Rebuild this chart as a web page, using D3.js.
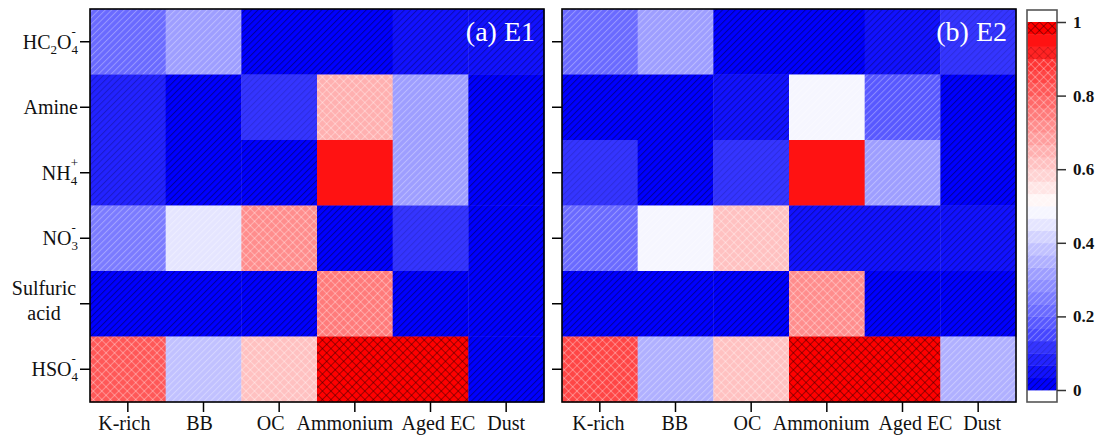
<!DOCTYPE html>
<html>
<head>
<meta charset="utf-8">
<script src="https://cdn.jsdelivr.net/npm/d3@7"></script>
<style>
  html, body { margin: 0; padding: 0; background: #fff; }
  svg text { font-family: "Liberation Serif", "Times New Roman", serif; }
</style>
</head>
<body>
<svg id="chart" width="1100" height="439"></svg>
<script>
// Sources (columns) and species (rows)
const sources = ["K-rich", "BB", "OC", "Ammonium", "Aged EC", "Dust"];
const species = ["HC2O4-", "Amine", "NH4+", "NO3-", "Sulfuric acid", "HSO4-"];

// Normalised correlation matrices, one row per species
const e1Values = [
  [0.20, 0.30, 0.00, 0.00, 0.05, 0.05],
  [0.07, 0.00, 0.10, 0.65, 0.32, 0.00],
  [0.07, 0.00, 0.03, 0.96, 0.32, 0.00],
  [0.25, 0.45, 0.72, 0.02, 0.10, 0.00],
  [0.00, 0.00, 0.00, 0.75, 0.03, 0.00],
  [0.82, 0.38, 0.60, 1.00, 1.00, 0.03]
];
const e2Values = [
  [0.20, 0.33, 0.03, 0.00, 0.05, 0.12],
  [0.02, 0.00, 0.05, 0.49, 0.17, 0.00],
  [0.12, 0.00, 0.10, 0.96, 0.30, 0.00],
  [0.22, 0.49, 0.62, 0.05, 0.05, 0.05],
  [0.00, 0.00, 0.00, 0.70, 0.02, 0.02],
  [0.85, 0.35, 0.63, 1.00, 1.00, 0.35]
];
const panelTitles = ["(a) E1", "(b) E2"];
const colorbarTicks = [0, 0.2, 0.4, 0.6, 0.8, 1];

// Row labels with chemical sub/superscripts
const rowLabelParts = {
  "HC2O4-": [{t: "HC"}, {t: "2", sub: true}, {t: "O"}, {t: "4", sub: true, sup: "-"}],
  "Amine": [{t: "Amine"}],
  "NH4+": [{t: "NH"}, {t: "4", sub: true, sup: "+"}],
  "NO3-": [{t: "NO"}, {t: "3", sub: true, sup: "-"}],
  "HSO4-": [{t: "HSO"}, {t: "4", sub: true, sup: "-"}]
};

// Horizontal nudges (px) that keep the long source names apart
const labelNudge = [
  [-3.5, -4, -8.5, -10, 8, 0],
  [-1.5, -0.7, -3.7, -5.7, 13, 4]
];

const SERIF = '"Liberation Serif", "Times New Roman", serif';
const nLevels = 30;
const svg = d3.select("#chart");
const defs = svg.append("defs");

// Diverging blue-white-red level colours
const blueWhite = d3.interpolateRgb("#0000ff", "#ffffff");
const whiteRed = d3.interpolateRgb("#ffffff", "#ff0000");
function levelColor(i) {
  const t = i / (nLevels - 1);
  return t <= 0.5 ? blueWhite(t / 0.5) : whiteRed((t - 0.5) / 0.5);
}
function levelOf(v) {
  return Math.max(0, Math.min(nLevels - 1, Math.floor(v * nLevels)));
}
// Hatch style for each level: diagonal lines on the blue side, cross-hatch on the red side
function hatchFor(i) {
  if (i <= 3) return {cross: false, stroke: "rgba(0,0,40," + [0.45, 0.35, 0.25, 0.15][i] + ")"};
  if (i <= 14) return {cross: false, stroke: "rgba(255,255,255,0.3)"};
  if (i <= 26) return {cross: true, stroke: "rgba(255,255,255,0.32)"};
  if (i === 27) return {cross: true, stroke: "rgba(90,0,0,0.22)"};
  if (i === 28) return null;
  return {cross: true, stroke: "rgba(40,0,0,0.45)"};
}

d3.range(nLevels).forEach(i => {
  const h = hatchFor(i);
  const fill = levelColor(i);
  const size = h && h.cross ? 6 : 4.5;
  const p = defs.append("pattern")
    .attr("id", "lvl" + i)
    .attr("patternUnits", "userSpaceOnUse")
    .attr("width", size).attr("height", size)
    .attr("patternTransform", "rotate(45)");
  p.append("rect").attr("width", size).attr("height", size).attr("fill", fill);
  if (h) {
    p.append("line").attr("x1", 0.5).attr("y1", 0).attr("x2", 0.5).attr("y2", size)
      .attr("stroke", h.stroke).attr("stroke-width", 1);
    if (h.cross) {
      p.append("line").attr("x1", 0).attr("y1", 0.5).attr("x2", size).attr("y2", 0.5)
        .attr("stroke", h.stroke).attr("stroke-width", 1);
    }
  }
});

const panelLefts = [90, 562];
const panelTop = 9, panelW = 454, panelH = 393;
const y = d3.scaleBand().domain(species).range([panelTop, panelTop + panelH]).padding(0);

[e1Values, e2Values].forEach((matrix, pi) => {
  const x0 = panelLefts[pi];
  const x = d3.scaleBand().domain(sources).range([x0, x0 + panelW]).padding(0);
  const g = svg.append("g");

  const cells = [];
  matrix.forEach((row, r) => row.forEach((v, c) => cells.push({r: species[r], c: sources[c], v})));
  g.selectAll("rect.cell").data(cells).join("rect")
    .attr("class", "cell")
    .attr("x", d => x(d.c)).attr("y", d => y(d.r))
    .attr("width", x.bandwidth() + 0.4).attr("height", y.bandwidth() + 0.4)
    .attr("fill", d => "url(#lvl" + levelOf(d.v) + ")");

  // frame
  g.append("rect").attr("x", x0).attr("y", panelTop).attr("width", panelW).attr("height", panelH)
    .attr("fill", "none").attr("stroke", "#000").attr("stroke-width", 1.6);

  // axes
  const xAxis = g.append("g").attr("transform", `translate(0,${panelTop + panelH})`)
    .call(d3.axisBottom(x).tickSize(10).tickSizeOuter(0).tickPadding(4));
  xAxis.attr("font-family", null).attr("font-size", null);
  xAxis.select(".domain").remove();
  xAxis.selectAll("line").attr("stroke", "#000").attr("stroke-width", 1.5);
  xAxis.selectAll("text").style("font-size", "20px").style("font-family", SERIF)
    .attr("fill", "#111")
    .attr("x", (d, i) => labelNudge[pi][i]);

  const yAxis = g.append("g").attr("transform", `translate(${x0},0)`)
    .call(d3.axisLeft(y).tickSize(10).tickSizeOuter(0).tickFormat(""));
  yAxis.select(".domain").remove();
  yAxis.selectAll("line").attr("stroke", "#000").attr("stroke-width", 1.5);

  g.append("text").attr("x", x0 + panelW - 9).attr("y", 41)
    .attr("text-anchor", "end").style("font-size", "28px").style("font-family", SERIF)
    .attr("fill", "#fff").text(panelTitles[pi]);
});

// Row labels on the left panel
const labelRight = 78;
species.forEach(s => {
  const cy = y(s) + y.bandwidth() / 2;
  if (s === "Sulfuric acid") {
    const t = svg.append("text").attr("text-anchor", "middle")
      .style("font-size", "20px").style("font-family", SERIF).attr("fill", "#111");
    t.append("tspan").attr("x", 44).attr("y", cy - 9).text("Sulfuric");
    t.append("tspan").attr("x", 44).attr("y", cy + 16).text("acid");
    return;
  }
  const g = svg.append("g");
  let cx = 0;
  const base = cy + 7;
  rowLabelParts[s].forEach(part => {
    if (part.sub) {
      const sub = g.append("text").attr("x", cx).attr("y", base + 5)
        .style("font-size", "13px").style("font-family", SERIF).attr("fill", "#111").text(part.t);
      let w = sub.node().getComputedTextLength();
      if (part.sup) {
        const sup = g.append("text").attr("x", cx).attr("y", base - 13)
          .style("font-size", "13px").style("font-family", SERIF).attr("fill", "#111").text(part.sup);
        w = Math.max(w, sup.node().getComputedTextLength());
      }
      cx += w;
    } else {
      const tx = g.append("text").attr("x", cx).attr("y", base)
        .style("font-size", "20px").style("font-family", SERIF).attr("fill", "#111").text(part.t);
      cx += tx.node().getComputedTextLength();
    }
  });
  g.attr("transform", `translate(${labelRight - cx},0)`);
});

// Colour bar
const cbX = 1027, cbW = 30, cbTop = 10, cbBottom = 402;
const cbScale = d3.scaleLinear().domain([0, 1]).range([390, 22]);
const cb = svg.append("g");
cb.append("rect").attr("x", cbX).attr("y", cbTop).attr("width", cbW).attr("height", cbBottom - cbTop)
  .attr("fill", "#fff");
cb.selectAll("rect.band").data(d3.range(nLevels)).join("rect")
  .attr("class", "band")
  .attr("x", cbX).attr("width", cbW)
  .attr("y", i => cbScale((i + 1) / nLevels))
  .attr("height", i => cbScale(i / nLevels) - cbScale((i + 1) / nLevels) + 0.4)
  .attr("fill", i => "url(#lvl" + i + ")");
cb.append("rect").attr("x", cbX).attr("y", cbTop).attr("width", cbW).attr("height", cbBottom - cbTop)
  .attr("fill", "none").attr("stroke", "#555").attr("stroke-width", 1.6);
const cbAxis = cb.append("g").attr("transform", `translate(${cbX + cbW},0)`)
  .call(d3.axisRight(cbScale).tickValues(colorbarTicks).tickSize(9).tickPadding(7).tickFormat(d3.format("")));
cbAxis.attr("font-family", null).attr("font-size", null);
cbAxis.select(".domain").remove();
cbAxis.selectAll("line").attr("stroke", "#333").attr("stroke-width", 1.5);
cbAxis.selectAll("text").style("font-size", "17px").style("font-weight", "bold")
  .style("font-family", SERIF).attr("fill", "#111");
</script>
</body>
</html>
